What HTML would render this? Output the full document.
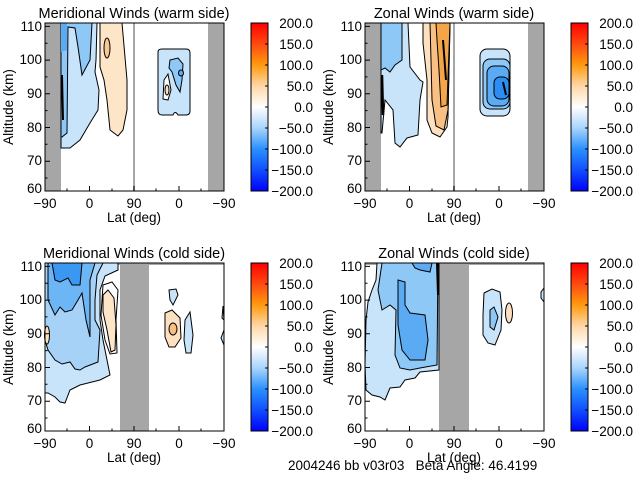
<!DOCTYPE html>
<html><head><meta charset="utf-8"><style>
html,body{margin:0;padding:0;background:#fff;}
svg{display:block;}
text{font-family:"Liberation Sans",sans-serif;font-size:13.5px;fill:#000;white-space:pre;}
.t{font-size:14.5px;}
</style></head><body>
<svg width="640" height="480" viewBox="0 0 640 480" xmlns="http://www.w3.org/2000/svg">
<defs>
<linearGradient id="cb" x1="0" y1="0" x2="0" y2="1">
<stop offset="0" stop-color="#ff0000"/>
<stop offset="0.125" stop-color="#ff4a10"/>
<stop offset="0.25" stop-color="#ff9a10"/>
<stop offset="0.375" stop-color="#ffd8a8"/>
<stop offset="0.5" stop-color="#ffffff"/>
<stop offset="0.625" stop-color="#a8d4fc"/>
<stop offset="0.75" stop-color="#2a90ff"/>
<stop offset="0.875" stop-color="#1050ff"/>
<stop offset="1" stop-color="#0000ff"/>
</linearGradient>
<g id="axes">
<rect x="45" y="23" width="179" height="168" fill="none" stroke="#000" stroke-width="1"/>
<path d="M45,26.4h5M45,60.1h5M45,93.8h5M45,127.5h5M45,161.2h5M45,43.2h2.5M45,76.9h2.5M45,110.6h2.5M45,144.3h2.5M45,178h2.5M89.5,191v-5M134,191v-5M179,191v-5M67,191v-2.5M112,191v-2.5M156,191v-2.5M201,191v-2.5" stroke="#000" fill="none"/>
<rect x="251" y="23" width="17" height="168" fill="url(#cb)" stroke="#000"/>
<path d="M268,23h-3M268,44h-3M268,65h-3M268,86h-3M268,107h-3M268,128h-3M268,149h-3M268,170h-3M268,191h-3" stroke="#000"/>
</g>
<g id="cblab">
<text x="313" y="28" text-anchor="end">200.0</text>
<text x="313" y="49" text-anchor="end">150.0</text>
<text x="313" y="70" text-anchor="end">100.0</text>
<text x="313" y="91" text-anchor="end">50.0</text>
<text x="313" y="112" text-anchor="end">0.0</text>
<text x="313" y="133" text-anchor="end">−50.0</text>
<text x="313" y="154" text-anchor="end">−100.0</text>
<text x="313" y="175" text-anchor="end">−150.0</text>
<text x="313" y="196" text-anchor="end">−200.0</text>
</g>
<g id="axlab">
<text x="42" y="31" text-anchor="end">110</text>
<text x="42" y="64" text-anchor="end">100</text>
<text x="42" y="98" text-anchor="end">90</text>
<text x="42" y="132" text-anchor="end">80</text>
<text x="42" y="165" text-anchor="end">70</text>
<text x="42" y="193" text-anchor="end">60</text>
<text x="45" y="208" text-anchor="middle">−90</text>
<text x="89.5" y="208" text-anchor="middle">0</text>
<text x="134" y="208" text-anchor="middle">90</text>
<text x="179" y="208" text-anchor="middle">0</text>
<text x="224" y="208" text-anchor="middle">−90</text>
<text x="134" y="222" text-anchor="middle">Lat (deg)</text>
<text transform="translate(13,107) rotate(-90)" text-anchor="middle">Altitude (km)</text>
</g>
</defs>

<!-- TOP LEFT -->
<g stroke="#000" stroke-width="1">
<rect x="45" y="23" width="16" height="168" fill="#a6a6a6" stroke="none"/>
<rect x="208" y="23" width="16" height="168" fill="#a6a6a6" stroke="none"/>
<rect x="133" y="23" width="2" height="168" fill="#a6a6a6" stroke="none"/>
<path d="M61,23L97,23L96,60L95,72L99,90L98,110L90,123L80,140L70,148L61,148Z" fill="#c8e4fb"/>
<path d="M61,23L92,23L90,60L82,75L78,47L75,28L68,27L67,133L62,137L61,137Z" fill="#8ec8f7"/>
<path d="M61,23L67,23L67,50L61,52Z" fill="#5aaaf4" stroke="none"/>
<path d="M62,75L63,120" stroke-width="2"/>
<path d="M100,23L122,23L127,80L127,110L123,130L118,136L110,130L107,100L104,80L100,67Z" fill="#fde5c8"/>
<ellipse cx="107" cy="48" rx="3" ry="10" fill="#f8c890"/>
<path d="M158,52Q158,49 162,49L186,49Q190,49 190,53L190,111Q190,115 186,115L178,115Q175,110 173,115L162,115Q158,115 158,110Z" fill="#c8e4fb"/>
<path d="M170,60L178,58L183,64L182,80L180,92L176,85L172,72L169,68Z" fill="#8ec8f7"/>
<ellipse cx="181" cy="73" rx="2.5" ry="3" fill="#5aaaf4"/>
<path d="M164,80L168,74L171,90L168,100L163,99Z" fill="#fff"/>
<ellipse cx="167" cy="90" rx="2" ry="5" fill="#fde0c0"/>
</g>
<use href="#axes"/><use href="#axlab"/><use href="#cblab"/>
<text class="t" x="134" y="18" text-anchor="middle">Meridional Winds (warm side)</text>

<!-- TOP RIGHT -->
<g transform="translate(320,0)">
<g stroke="#000" stroke-width="1">
<rect x="45" y="23" width="16" height="168" fill="#a6a6a6" stroke="none"/>
<rect x="208" y="23" width="16" height="168" fill="#a6a6a6" stroke="none"/>
<rect x="133" y="23" width="2" height="168" fill="#a6a6a6" stroke="none"/>
<path d="M61,23L88,23L90,67L100,80L103,82L100,100L98,135L87,138L80,147L75,143L73,110L65,100L62,133L61,133Z" fill="#c8e4fb"/>
<path d="M61,23L82,23L82,60L75,65L70,72L65,68L61,70Z" fill="#8ec8f7"/>
<path d="M62,75L63,115" stroke-width="2.5"/>
<path d="M103,23L130,23L128,117L127,127L120,137L112,133L107,120L107,80L103,43Z" fill="#fde0c0"/>
<path d="M110,23L130,23L128,110L124,130L116,126L112,100L111,60Z" fill="#f9c083"/>
<path d="M116,23L130,23L127,105L121,107L119,70L117,40Z" fill="#f4a548"/>
<path d="M123,40L126,80" stroke-width="2"/>
<rect x="160" y="49" width="30" height="67" rx="7" fill="#c8e4fb"/>
<rect x="163" y="59" width="27" height="50" rx="7" fill="#8ec8f7"/>
<rect x="167" y="66" width="22" height="40" rx="7" fill="#5aaaf4"/>
<rect x="174" y="77" width="15" height="22" rx="6" fill="#2c8ef2"/>
<path d="M183,82L186,95" stroke-width="2"/>
</g>
<use href="#axes"/><use href="#axlab"/><use href="#cblab"/>
<text class="t" x="134" y="18" text-anchor="middle">Zonal Winds (warm side)</text>
</g>

<!-- BOTTOM LEFT -->
<g transform="translate(0,240)">
<g stroke="#000" stroke-width="1">
<rect x="45" y="23" width="179" height="2" fill="#a6a6a6" stroke="none"/>
<rect x="120" y="23" width="29" height="168" fill="#a6a6a6" stroke="none"/>
<path d="M45,23L118,23L118,30L105,36L100,50L100,80L103,100L110,135L100,140L80,145L70,150L65,163L60,162L55,157L48,153L45,153Z" fill="#c8e4fb"/>
<path d="M103,45L112,42L118,50L116,80L117,113L110,114L105,100L101,75Z" fill="#fff"/>
<path d="M103,55L108,50L114,58L116,85L115,110L111,112L107,90L103,72Z" fill="#fde5c8"/>
<path d="M45,23L103,23L97,35L95,60L95,80L100,90L98,122L85,127L80,130L75,129L70,122L62,124L55,120L48,110L45,100Z" fill="#a6d2f8"/>
<path d="M48,23L95,23L90,40L90,97L86,80L82,53L78,60L72,70L65,72L60,67L55,75L48,60Z" fill="#6cb6f6"/>
<path d="M52,23L82,23L80,45L72,45L68,38L60,42L55,40Z" fill="#3a98f2"/>
<ellipse cx="47" cy="95" rx="2.5" ry="9" fill="#fde0c0"/>
<path d="M169,50L176,49L178,55L173,65L170,60Z" fill="#c8e4fb"/>
<path d="M165,73L172,70L180,78L181,98L175,107L169,107L165,97Z" fill="#fde0c0"/>
<ellipse cx="173" cy="89" rx="4" ry="6" fill="#f9c083"/>
<path d="M185,80L190,72L193,95L191,113L186,113L184,100Z" fill="#c8e4fb"/>
<path d="M223,66L222,78L224,80Z" fill="#fde0c0"/>
<path d="M224,90L221,98L224,105Z" fill="#c8e4fb"/>
</g>
<use href="#axes"/><use href="#axlab"/><use href="#cblab"/>
<text class="t" x="134" y="18" text-anchor="middle">Meridional Winds (cold side)</text>
</g>

<!-- BOTTOM RIGHT -->
<g transform="translate(320,240)">
<g stroke="#000" stroke-width="1">
<rect x="45" y="23" width="179" height="2" fill="#a6a6a6" stroke="none"/>
<rect x="119" y="23" width="30" height="168" fill="#a6a6a6" stroke="none"/>
<path d="M57,23L119,23L119,130L100,132L95,138L85,140L80,147L70,148L65,160L60,157L52,155L46,150L45,125L46,80L48,62L52,50L56,40Z" fill="#c8e4fb"/>
<path d="M62,23L118,23L117,125L100,128L90,130L80,128L75,115L76,70L70,65L62,70L58,50Z" fill="#8ec8f7"/>
<path d="M78,40L85,42L85,65L90,73L105,75L108,100L105,120L90,120L82,110L78,85Z" fill="#5aaaf4"/>
<path d="M92,23L112,23L110,32L100,30L95,28Z" fill="#5aaaf4"/>
<path d="M117,23L118,55" stroke-width="2"/>
<path d="M164,53L172,49L180,52L182,70L181,90L175,105L168,103L163,95L163,75Z" fill="#c8e4fb"/>
<path d="M170,70L174,67L178,77L174,90L170,87Z" fill="#8ec8f7"/>
<ellipse cx="189" cy="73" rx="3.5" ry="10" fill="#fde0c0"/>
<path d="M221,52L224,48L224,62L221,58Z" fill="#c8e4fb"/>
</g>
<use href="#axes"/><use href="#axlab"/><use href="#cblab"/>
<text class="t" x="134" y="18" text-anchor="middle">Zonal Winds (cold side)</text>
</g>

<text x="288" y="470" xml:space="preserve">2004246 bb v03r03   Beta Angle: 46.4199</text>
</svg>
</body></html>
